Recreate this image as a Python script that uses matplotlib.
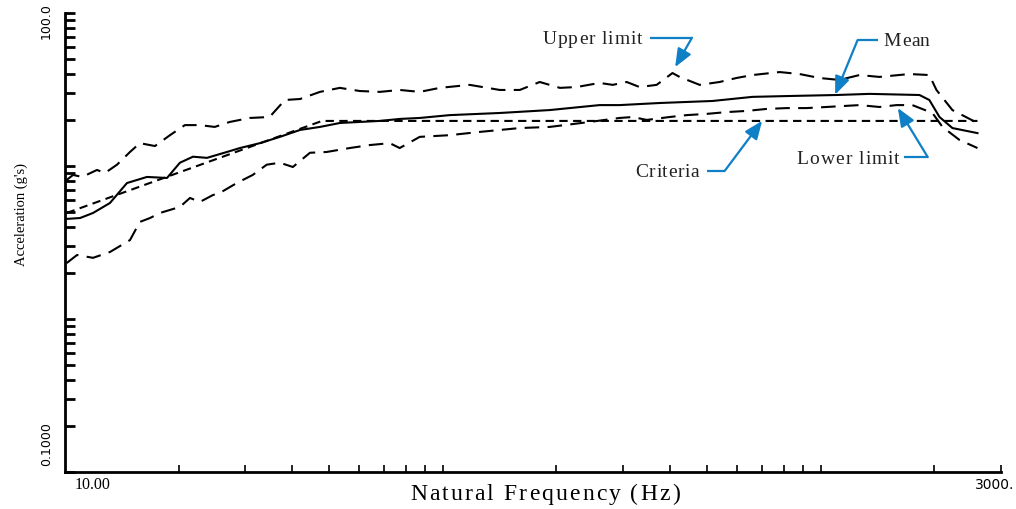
import numpy as np
import matplotlib.pyplot as plt
import matplotlib.transforms as mtransforms

# Data (frequency in Hz, acceleration in g)
upper_f = [10.1, 10.5, 11.1, 12.15, 12.76, 13.73, 14.86, 15.78, 17.3, 18.96, 20.76, 22.75,
           24.9, 27.3, 30.85, 34.8, 38.2, 41.9, 47.3, 53.4, 60.3, 68.1, 76.9, 86.9, 98.2,
           117.8, 141.5, 159.9, 180.6, 204.2, 226, 260, 281.8, 306.8, 331.9, 368.3, 405.6,
           423.6, 478.6, 540.5, 599.4, 660.7, 779.6, 880, 993, 1122, 1268, 1432, 1718,
           1941, 2027, 2234, 2603]
upper_g = [8.1, 8.74, 8.48, 9.42, 9.0, 10.2, 12.35, 14.1, 13.5, 15.9, 18.5, 18.5,
           18.0, 19.4, 20.6, 20.9, 27.0, 27.4, 30.5, 32.4, 30.9, 30.5, 31.4, 30.5, 32.4,
           33.9, 31.4, 31.4, 35.4, 32.4, 32.8, 34.9, 33.9, 35.4, 32.8, 33.9, 40.5,
           38.2, 33.9, 35.4, 37.6, 39.3, 41.1, 39.9, 37.6, 36.5, 39.3, 38.2, 39.9,
           39.3, 31.4, 23.2, 19.1]

mean_f = [10.1, 10.96, 11.86, 13.15, 14.59, 16.48, 18.62, 20.14, 21.81, 23.75, 26.84,
          29.04, 32.8, 37.05, 41.9, 47.3, 53.4, 60.3, 68.1, 76.9, 86.9, 104.3, 141.5,
          191.9, 260, 293.8, 375, 517.6, 660.7, 843.6, 1102, 1349, 1828, 1941, 2065,
          2234, 2603]
mean_g = [4.51, 4.57, 4.93, 5.73, 7.74, 8.48, 8.35, 10.5, 11.5, 11.3, 12.35,
          13.1, 14.1, 15.5, 17.2, 18.0, 19.1, 19.4, 19.7, 20.3, 20.6, 21.5, 22.2,
          23.2, 25.0, 25.0, 25.8, 26.6, 28.3, 28.7, 29.1, 29.6, 29.1, 27.0, 20.9,
          17.7, 16.4]

lower_f = [10.1, 10.76, 11.86, 13.15, 14.86, 15.78, 16.79, 17.83, 20.14, 21.42, 22.75,
           24.64, 25.7, 28.5, 31.4, 34.2, 37.05, 40.1, 44.5, 49.3, 56.7, 64.1, 72.4,
           76.9, 86.9, 104.3, 125.3, 159.9, 191.9, 244.9, 293.8, 318.4, 346.6, 398.8,
           442.4, 499.3, 564, 637, 720, 813, 918, 1037, 1268, 1432, 1589, 1750, 1978,
           2103, 2332, 2603]
lower_g = [2.32, 2.62, 2.51, 2.74, 3.28, 4.31, 4.57, 4.93, 5.40, 6.18, 5.82,
           6.46, 6.67, 7.74, 8.74, 10.2, 10.5, 9.85, 12.2, 12.35, 13.1, 13.7, 14.1,
           13.1, 15.5, 15.9, 16.7, 17.7, 18.0, 19.4, 20.6, 20.9, 20.0, 20.9,
           21.5, 21.9, 22.5, 22.9, 23.6, 23.9, 23.9, 24.3, 25.0, 24.3, 25.0, 25.0, 22.2,
           18.0, 14.8, 13.1]

crit_f = [10.1, 47.9, 2603]
crit_g = [4.93, 19.7, 19.7]

x_ticks = [20, 30, 40, 50, 60, 70, 80, 90, 100, 200, 300, 400, 500, 600, 700, 800, 900,
           1000, 2000, 3000]
y_ticks = [m * 10.0**e for e in (-1, 0, 1) for m in range(1, 10)] + [100.0]

serif = ['Liberation Serif', 'DejaVu Serif']
blue = '#0f7fc6'

fig = plt.figure(figsize=(10.16, 5.09), dpi=100)
ax = fig.add_axes([0.064, 0.0727, 0.921, 0.9018])
renderer = fig.canvas.get_renderer()


def spaced_text(x, y, s, width_px, ha, size, color='black'):
    # letter-spaced text: place each glyph so the string spans width_px
    kw = dict(fontsize=size, family=serif)

    def w(txt):
        t = ax.text(0, 0, txt, transform=ax.transAxes, **kw)
        bb = t.get_window_extent(renderer)
        t.remove()
        return bb.width

    bar = w('||')
    lefts = [w('|' + s[:i] + '|') - bar for i in range(len(s))]
    natural = w('|' + s + '|') - bar
    extra = (width_px - natural) / (len(s) - 1)
    start = {'left': 0, 'right': -width_px, 'center': -width_px / 2}[ha]
    dy = -0.33 * size * fig.dpi / 72
    for i, c in enumerate(s):
        if c == ' ':
            continue
        tr = mtransforms.offset_copy(ax.transAxes, fig=fig, x=start + lefts[i] + i * extra,
                                     y=dy, units='dots')
        ax.text(x, y, c, transform=tr, ha='left', va='baseline', color=color,
                clip_on=False, **kw)


ax.plot(upper_f, upper_g, color='black', lw=1.5, dashes=(7, 4))
ax.plot(mean_f, mean_g, color='black', lw=1.5)
ax.plot(lower_f, lower_g, color='black', lw=1.5, dashes=(7, 4))
ax.plot(crit_f, crit_g, color='black', lw=1.5, dashes=(4, 2.6))

ax.set_xscale('log')
ax.set_yscale('log')
ax.set_xlim(10, 3000)
ax.set_ylim(0.1, 100)

ax.minorticks_off()
ax.set_xticks(x_ticks)
ax.set_xticklabels([])
ax.set_yticks(y_ticks)
ax.set_yticklabels([])
ax.minorticks_off()
ax.tick_params(axis='x', direction='in', length=5, width=1.2)
ax.tick_params(axis='y', direction='in', length=7, width=2)

for s in ['top', 'right']:
    ax.spines[s].set_visible(False)
for s in ['left', 'bottom']:
    ax.spines[s].set_linewidth(2)

# end labels of the axes
ax.text(-0.020, 0.983, '100.0', transform=ax.transAxes, rotation=90, ha='center',
        va='center', fontsize=9, family='DejaVu Sans')
ax.text(-0.020, 0.061, '0.1000', transform=ax.transAxes, rotation=90, ha='center',
        va='center', fontsize=9, family='DejaVu Sans')
ax.text(0.029, -0.028, '10.00', transform=ax.transAxes, ha='center', va='center',
        fontsize=11.5, family=serif)
ax.text(0.993, -0.028, '3000.', transform=ax.transAxes, ha='center', va='center',
        fontsize=10, family='DejaVu Sans')

spaced_text(0.513, -0.0436, 'Natural Frequency (Hz)', 270, 'center', 17)
ax.set_ylabel("Acceleration (g's)", fontsize=10.5, family=serif)
ax.yaxis.set_label_coords(-0.0395, 0.56)

# annotations: text, horizontal lead, arrow
notes = [
    ('Upper limit', 100, (0.617, 0.946), 'right', (0.625, 0.670), (0.652, 0.882)),
    ('Mean', 46, (0.875, 0.941), 'left', (0.869, 0.847), (0.823, 0.822)),
    ('Criteria', 64, (0.678, 0.656), 'right', (0.686, 0.705), (0.745, 0.765)),
    ('Lower limit', 103, (0.892, 0.686), 'right', (0.897, 0.922), (0.890, 0.793)),
]
for label, wpx, pos, ha, (xa, xb), tip in notes:
    spaced_text(pos[0], pos[1], label, wpx, ha, 14, color='#222222')
    ax.plot([xa, xb], [pos[1], pos[1]], color=blue, lw=1.6, transform=ax.transAxes,
            clip_on=False, solid_capstyle='butt')
    ax.annotate('', xy=tip, xycoords='axes fraction', xytext=(xb, pos[1]),
                textcoords='axes fraction',
                arrowprops=dict(arrowstyle='-|>,head_length=1.1,head_width=0.45',
                                color=blue, lw=1.6, shrinkA=0, shrinkB=0))

fig.savefig('out.png', dpi=100)
